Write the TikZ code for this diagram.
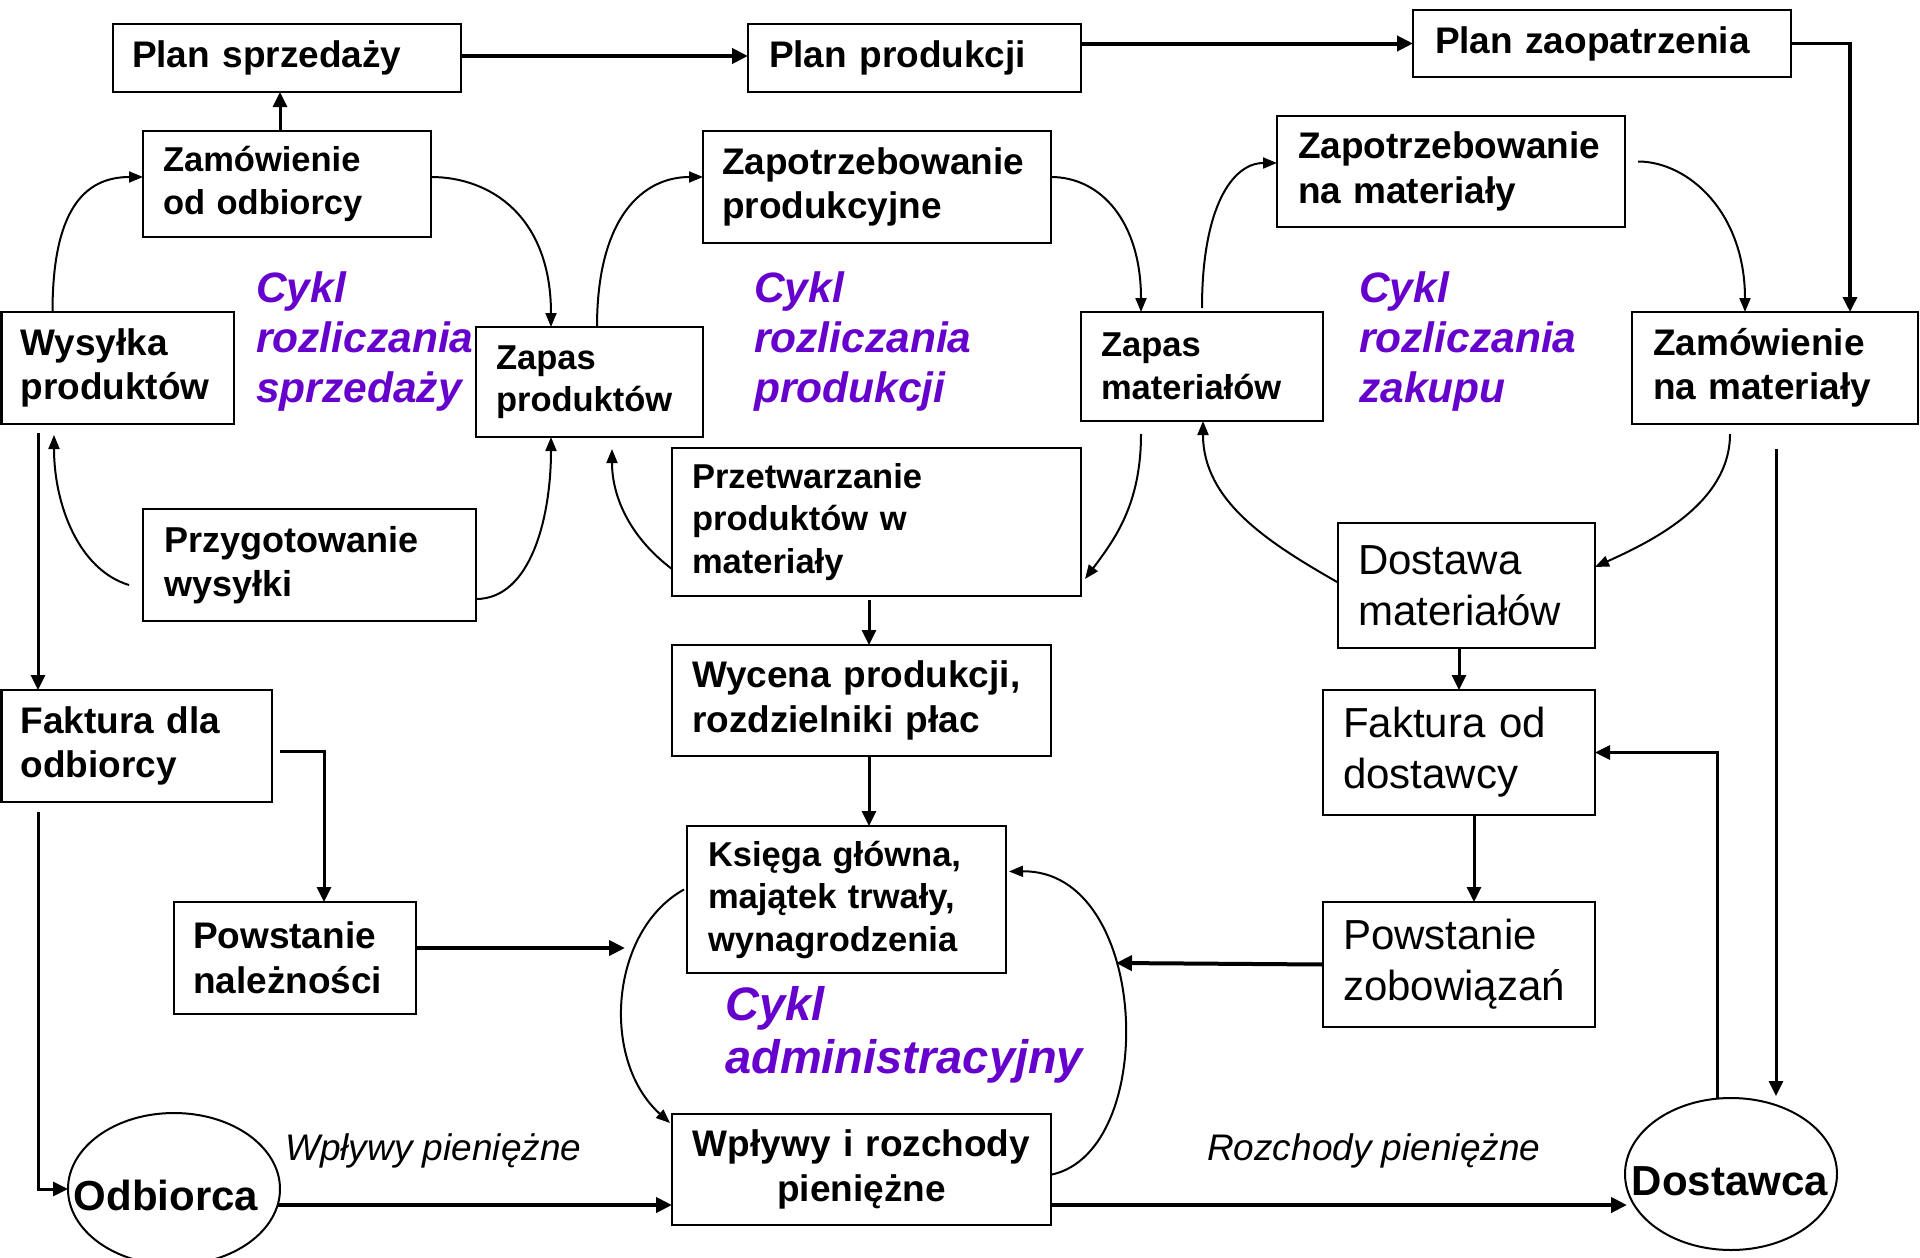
\documentclass[tikz,border=0pt]{standalone}
\usepackage{fontspec}
\setmainfont{Liberation Sans}
\usetikzlibrary{arrows.meta,calc,shapes.geometric}
\definecolor{cyc}{RGB}{102,0,204}
\hyphenpenalty=10000
\exhyphenpenalty=10000
\tikzset{
  bx/.style={draw, line width=2.7pt, inner ysep=0pt, outer sep=0pt, align=left, anchor=north west},
  fB/.style={font=\fontsize{37}{44.5}\selectfont\bfseries},
  fBs/.style={font=\fontsize{34.5}{42.5}\selectfont\bfseries},
  fR/.style={font=\fontsize{42}{51}\selectfont},
  fE/.style={font=\fontsize{42}{50}\selectfont\bfseries, inner sep=0pt},
  fI/.style={font=\fontsize{37}{44}\selectfont\itshape, inner sep=0pt},
  cycl/.style={font=\fontsize{42.5}{50}\selectfont\bfseries\itshape, text=cyc, align=left, inner sep=0pt},
  cyca/.style={font=\fontsize{47}{53}\selectfont\bfseries\itshape, text=cyc, align=left, inner sep=0pt},
  ell/.style={draw, ellipse, line width=2pt, minimum width=212pt, minimum height=152pt, inner sep=0pt, outer sep=0pt},
  ar/.style={-{Triangle[length=15pt,width=14pt]}, line width=3pt},
  arT/.style={-{Triangle[length=16pt,width=15pt]}, line width=4pt},
  arc/.style={-{Triangle[length=14pt,width=11pt]}, line width=2pt},
}
\begin{document}
\begin{tikzpicture}[x=1pt,y=-1pt]
\useasboundingbox (0,0) rectangle (1920,1258);
\fill[white] (0,0) rectangle (1920,1258);

% boxes
\node[bx, fB, inner xsep=19pt, minimum width=348pt, minimum height=68pt, text width=310pt] (ps) at (113,24) {Plan sprzedaży};
\node[bx, fB, inner xsep=21pt, minimum width=333pt, minimum height=68pt, text width=291pt] (pp) at (748,24) {Plan produkcji};
\node[bx, fB, inner xsep=22pt, minimum width=378pt, minimum height=67pt, text width=334pt] (pz) at (1413,10) {Plan zaopatrzenia};
\node[bx, fBs, inner xsep=20pt, minimum width=288pt, minimum height=106pt, text width=248pt] (zo) at (143,131) {Zamówienie\\od odbiorcy};
\node[bx, fB, inner xsep=19pt, minimum width=348pt, minimum height=112pt, text width=310pt] (zpp) at (703,131) {Zapotrzebowanie\\produkcyjne};
\node[bx, fB, inner xsep=21pt, minimum width=348pt, minimum height=111pt, text width=306pt] (zpm) at (1277,116) {Zapotrzebowanie\\na materiały};
\node[bx, fB, inner xsep=19pt, minimum width=232.5pt, minimum height=112pt, text width=194.5pt] (wp) at (1.5,312) {Wysyłka\\produktów};
\node[bx, fBs, inner xsep=20pt, minimum width=227pt, minimum height=110pt, text width=187pt] (zap) at (476,327) {Zapas\\produktów};
\node[bx, fBs, inner xsep=20pt, minimum width=242pt, minimum height=109pt, text width=202pt] (zam) at (1081,312) {Zapas\\materiałów};
\node[bx, fB, inner xsep=21pt, minimum width=286pt, minimum height=112pt, text width=244pt] (znm) at (1632,312) {Zamówienie\\na materiały};
\node[bx, fB, font=\fontsize{36}{44}\selectfont\bfseries, inner xsep=21pt, minimum width=333pt, minimum height=112pt, text width=291pt] (pw) at (143,509) {Przygotowanie\\wysyłki};
\node[bx, fBs, inner xsep=20pt, minimum width=409pt, minimum height=148pt, text width=369pt] (ptm) at (672,448) {Przetwarzanie\\produktów w\\materiały};
\node[bx, fR, inner xsep=20pt, minimum width=257pt, minimum height=125pt, text width=217pt] (dm) at (1338,523) {Dostawa\\materiałów};
\node[bx, fR, inner xsep=20pt, minimum width=272pt, minimum height=125pt, text width=232pt] (fd) at (1323,690) {Faktura od\\dostawcy};
\node[bx, fR, inner xsep=20pt, minimum width=272pt, minimum height=125pt, text width=232pt] (pzob) at (1323,902) {Powstanie\\zobowiązań};
\node[bx, fB, inner xsep=19pt, minimum width=270.5pt, minimum height=112pt, text width=232.5pt] (fo) at (1.5,690) {Faktura dla\\odbiorcy};
\node[bx, fB, inner xsep=19pt, minimum width=242pt, minimum height=112pt, text width=204pt] (pn) at (174,902) {Powstanie\\należności};
\node[bx, fB, inner xsep=20pt, minimum width=379pt, minimum height=111pt, text width=339pt] (wyc) at (672,645) {Wycena produkcji,\\rozdzielniki płac};
\node[bx, fBs, inner xsep=21pt, minimum width=319pt, minimum height=147pt, text width=277pt] (kg) at (687,826) {Księga główna,\\majątek trwały,\\wynagrodzenia};
\node[bx, fB, align=center, inner xsep=20pt, minimum width=379pt, minimum height=111pt, text width=339pt] (wir) at (672,1114) {Wpływy i rozchody\\pieniężne};

% ellipses
\node[ell] (odb) at (174,1189) {};
\node[fE, anchor=base] (odbt) at (166,1210) {Odbiorca};
\node[ell] (dos) at (1731,1174) {};
\node[fE, anchor=base] (dost) at (1730,1195) {Dostawca};

% cycle labels (base anchor = baseline of last line)
\node[cycl, anchor=base west] (cs) at (256,402) {Cykl\\rozliczania\\sprzedaży};
\node[cycl, anchor=base west] (cp) at (754,402) {Cykl\\rozliczania\\produkcji};
\node[cycl, anchor=base west] (cz) at (1359,402) {Cykl\\rozliczania\\zakupu};
\node[cyca, anchor=base west] (ca) at (725,1073) {Cykl\\administracyjny};

% money labels
\node[fI, anchor=base west] (wpl) at (285,1160) {Wpływy pieniężne};
\node[fI, anchor=base west] (rpl) at (1207,1160) {Rozchody pieniężne};

% straight connectors
\draw[ar] ($(zo.north)+(-7,0)$) -- ($(ps.south)+(-7,0)$);
\draw[arT] ($(ps.east)+(0,-2)$) -- ($(pp.west)+(0,-2)$);
\draw[arT] (pp.east |- pz.west) -- (pz.west);
\draw[ar, line width=3.5pt] (pz.east) -| ($(znm.north west)+(218,0)$);

% sales cycle
\draw[arc] ($(wp.north west)+(51,0)$) .. controls +(0,-100) and +(-60,0) .. ($(zo.west)+(0,-7)$);
\draw[arc] ($(zo.east)+(0,-7)$) .. controls +(60,0) and +(0,-110) .. ($(zap.north west)+(75,0)$);
\draw[arc] ($(pw.east)+(0,34)$) .. controls +(55,0) and +(0,80) .. ($(zap.south west)+(75,0)$);
\draw[arc] ($(pw.west)+(-14,20)$) .. controls +(-50,-15) and +(0,70) .. ($(wp.south west)+(52.5,11)$);

% production cycle
\draw[arc] ($(zap.north west)+(121,0)$) .. controls +(0,-110) and +(-60,0) .. ($(zpp.west)+(0,-10)$);
\draw[arc] ($(zpp.east)+(0,-10)$) .. controls +(50,0) and +(0,-90) .. ($(zam.north west)+(60,0)$);
\draw[arc] ($(zam.south west)+(60,13)$) .. controls +(0,70) and +(30,-40) .. ($(ptm.east)+(4,57)$);
\draw[arc] ($(ptm.west)+(0,47)$) .. controls +(-40,-30) and +(0,50) .. ($(zap.south west)+(136,12)$);

% purchase cycle
\draw[arc] ($(zam.north west)+(121,-4)$) .. controls +(0,-100) and +(-45,0) .. ($(zpm.west)+(0,-8.5)$);
\draw[arc] ($(zpm.east)+(13,-10)$) .. controls +(50,0) and +(0,-100) .. ($(znm.north west)+(113,0)$);
\draw[arc] ($(znm.south west)+(98,10)$) .. controls +(0,70) and +(55,-25) .. ($(dm.east)+(0,-18.5)$);
\draw[arc] ($(dm.west)+(0,-3)$) .. controls +(-70,-40) and +(0,80) .. ($(zam.south west)+(122,0)$);

% left column
\draw[ar] ($(wp.south west)+(36.5,9)$) -- ($(fo.north west)+(36.5,0)$);
\draw[ar] ($(fo.east)+(8,5)$) -| ($(pn.north west)+(150,0)$);
\draw[ar] ($(fo.south west)+(36.5,10)$) |- (odb.west);
\coordinate (pnend) at (625,948);
\draw[arT] ($(pn.east)+(0,-10)$) -- (pnend);
\draw[arT] ($(odb.center)+(104,16)$) -- ($(wir.west)+(0,35.5)$);

% middle column
\draw[ar] ($(ptm.south west)+(197,4)$) -- ($(wyc.north west)+(197,0)$);
\draw[ar] ($(wyc.south west)+(197,0)$) -- ($(kg.north west)+(182,0)$);
\draw[arc] ($(kg.west)+(-3,-10)$) .. controls +(-74,41) and +(-70,-63) .. ($(wir.north west)+(-2,9)$);
\draw[arc] ($(wir.east)+(1,5)$) .. controls +(108,-24) and +(141,-2) .. ($(kg.east)+(3,-28)$);

% right column
\coordinate (pzend) at (1116,963);
\draw[arT] (pzob.west) -- (pzend);
\draw[ar] ($(dm.south west)+(121,0)$) -- ($(fd.north west)+(136,0)$);
\draw[ar] ($(fd.south west)+(151,0)$) -- ($(pzob.north west)+(151,0)$);
\draw[ar] ($(dos.center)+(-14,-76)$) |- (fd.east);
\draw[ar] ($(znm.south west)+(144,25)$) -- ($(dos.center)+(45,-78)$);
\draw[arT] ($(wir.east)+(0,35.5)$) -- ($(dos.center)+(-104,31)$);
\end{tikzpicture}
\end{document}
